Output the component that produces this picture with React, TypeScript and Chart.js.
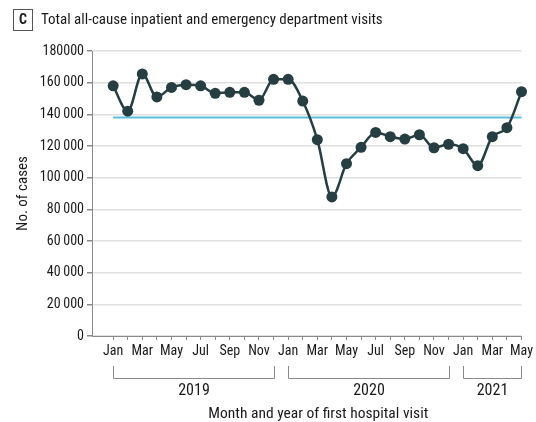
import React, { useEffect, useRef } from 'react';
import { Chart, registerables } from 'chart.js';

Chart.register(...registerables);

// ---- Data ----
const months = [
  'Jan', 'Feb', 'Mar', 'Apr', 'May', 'Jun', 'Jul', 'Aug', 'Sep', 'Oct', 'Nov', 'Dec',
  'Jan', 'Feb', 'Mar', 'Apr', 'May', 'Jun', 'Jul', 'Aug', 'Sep', 'Oct', 'Nov', 'Dec',
  'Jan', 'Feb', 'Mar', 'Apr', 'May',
];
const monthTickLabels = [
  'Jan', '', 'Mar', '', 'May', '', 'Jul', '', 'Sep', '', 'Nov', '',
  'Jan', '', 'Mar', '', 'May', '', 'Jul', '', 'Sep', '', 'Nov', '',
  'Jan', '', 'Mar', '', 'May',
];
const visits = [
  158000, 142000, 165500, 151000, 157000, 158700, 158000, 153300, 153900, 153900, 148900, 162100,
  162100, 148400, 124000, 87800, 108800, 119200, 128600, 125900, 124400, 127100, 118900, 121100,
  118300, 107600, 125900, 131600, 154300,
];
const referenceLevel = 138000;
const yTicks = [0, 20000, 40000, 60000, 80000, 100000, 120000, 140000, 160000, 180000];
const yTickLabels = ['0', '20\u2009000', '40\u2009000', '60\u2009000', '80\u2009000', '100\u2009000', '120\u2009000', '140\u2009000', '160\u2009000', '180000'];
const years = ['2019', '2020', '2021'];
const yearStartIdx = [0, 12, 24];
const yearEndIdx = [11, 23, 28];

const titleLetter = 'C';
const titleText = 'Total all-cause inpatient and emergency department visits';
const yTitle = 'No. of cases';
const xTitle = 'Month and year of first hospital visit';

const FONT = "'Liberation Sans Narrow', 'Roboto Condensed', 'DejaVu Sans Condensed', 'Liberation Sans', sans-serif";
const TEXT = '#1a1a1a';
const AXIS = '#8a8a8a';

const decorPlugin = {
  id: 'decor',
  afterDraw(chart: any) {
    const { ctx } = chart;
    const xs = chart.scales.x;
    ctx.save();
    // panel letter box and title
    ctx.strokeStyle = '#555';
    ctx.lineWidth = 1;
    ctx.strokeRect(13.5, 9.5, 19, 21);
    ctx.fillStyle = TEXT;
    ctx.textBaseline = 'middle';
    ctx.textAlign = 'center';
    ctx.font = `bold 14px ${FONT}`;
    ctx.fillText(titleLetter, 23, 20.5);
    ctx.textAlign = 'left';
    ctx.font = `15px ${FONT}`;
    ctx.fillText(titleText, 41, 20);

    // year brackets
    ctx.strokeStyle = AXIS;
    ctx.lineWidth = 1;
    ctx.font = `16px ${FONT}`;
    ctx.textAlign = 'center';
    years.forEach((yr, i) => {
      const x1 = Math.round(xs.getPixelForValue(yearStartIdx[i])) + 0.5;
      const x2 = Math.round(xs.getPixelForValue(yearEndIdx[i])) + 0.5;
      ctx.beginPath();
      ctx.moveTo(x1, 366);
      ctx.lineTo(x1, 378.5);
      ctx.lineTo(x2, 378.5);
      ctx.lineTo(x2, 366);
      ctx.stroke();
      ctx.fillText(yr, (x1 + x2) / 2, 391);
    });
    // x title
    ctx.font = `15.5px ${FONT}`;
    const cx = (xs.getPixelForValue(0) + xs.getPixelForValue(months.length - 1)) / 2;
    ctx.fillText(xTitle, cx + 1, 414);
    ctx.restore();
  },
};

export default function App() {
  const ref = useRef<HTMLCanvasElement | null>(null);
  useEffect(() => {
    if (!ref.current) return;
    const chart = new Chart(ref.current, {
      type: 'line',
      data: {
        datasets: [
          {
            label: 'Visits',
            data: visits.map((v, i) => ({ x: i, y: v })),
            borderColor: '#263d42',
            backgroundColor: '#263d42',
            borderWidth: 2.5,
            pointRadius: 5.5,
            pointBackgroundColor: '#263d42',
            pointBorderWidth: 0,
            cubicInterpolationMode: 'monotone',
            clip: false,
            order: 0,
          },
          {
            label: 'Reference',
            data: [{ x: 0, y: referenceLevel }, { x: months.length - 1, y: referenceLevel }],
            borderColor: '#5bbfde',
            borderWidth: 2,
            pointRadius: 0,
            clip: false,
            order: 1,
          },
        ],
      },
      options: {
        animation: false,
        responsive: false,
        maintainAspectRatio: false,
        layout: { padding: { left: 0, right: 13, top: 51, bottom: 0 } },
        plugins: { legend: { display: false }, tooltip: { enabled: false }, title: { display: false } },
        scales: {
          x: {
            type: 'linear',
            min: -1.45,
            max: months.length - 1,
            afterBuildTicks: (s: any) => {
              s.ticks = months.map((_, i) => ({ value: i }));
            },
            afterFit: (s: any) => {
              s.height = 86;
            },
            ticks: {
              autoSkip: false,
              maxRotation: 0,
              padding: 3,
              color: TEXT,
              font: { family: FONT, size: 14 },
              callback: (v: any) => monthTickLabels[v] ?? '',
            },
            grid: { drawOnChartArea: false, tickLength: 4, tickColor: AXIS, color: AXIS },
            border: { display: true, color: AXIS, width: 1 },
          },
          y: {
            min: 0,
            max: 180000,
            afterBuildTicks: (s: any) => {
              s.ticks = yTicks.map((v) => ({ value: v }));
            },
            afterFit: (s: any) => {
              s.width = 92;
            },
            ticks: {
              padding: 3,
              color: TEXT,
              font: { family: FONT, size: 14 },
              callback: (v: any) => yTickLabels[yTicks.indexOf(v)] ?? '',
            },
            grid: { color: '#e0e0e0', lineWidth: 1.5, tickLength: 5, tickColor: AXIS },
            border: { display: true, color: AXIS, width: 1 },
            title: {
              display: true,
              text: yTitle,
              color: TEXT,
              font: { family: FONT, size: 15 },
              padding: { top: 14, bottom: 0 },
            },
          },
        },
      },
      plugins: [decorPlugin],
    } as any);
    return () => chart.destroy();
  }, []);
  return (
    <div style={{ position: 'fixed', left: 0, top: 0, width: 536, height: 422, background: '#fff' }}>
      <canvas ref={ref} width={536} height={422} style={{ width: 536, height: 422, display: 'block' }} />
    </div>
  );
}
